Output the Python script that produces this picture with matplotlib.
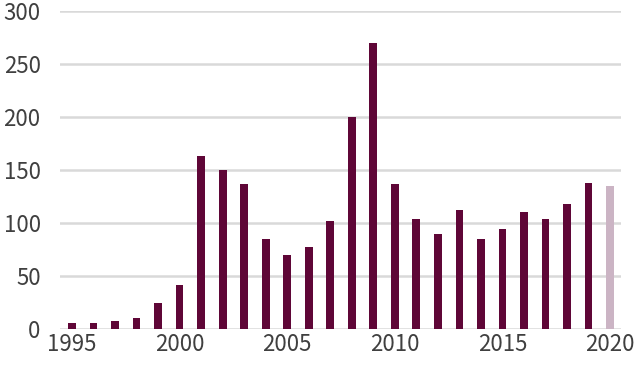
import matplotlib.pyplot as plt

years = list(range(1995, 2021))
counts = [5, 5, 7, 10, 24, 41, 163, 150, 137, 85, 70, 77, 102, 200, 270,
          137, 104, 89, 112, 85, 94, 110, 104, 118, 138, 135]
highlight_year = 2020

bar_colors = ['#cbb4c4' if y == highlight_year else '#5f0637' for y in years]

plt.rcParams['font.family'] = ['Noto Sans CJK KR', 'DejaVu Sans']

fig = plt.figure(figsize=(6.4, 3.66), dpi=100)
ax = fig.add_axes([0.094, 0.102, 0.876, 0.868])

ax.bar(years, counts, width=0.36, color=bar_colors, zorder=3)

ax.set_ylim(0, 300)
ax.set_xlim(1994.45, 2020.5)
ax.set_yticks(range(0, 301, 50))
ax.set_xticks(range(1995, 2021, 5))
ax.yaxis.grid(True, color='#d9d9d9', linewidth=1.8, zorder=0)
ax.set_axisbelow(True)

for s in ax.spines.values():
    s.set_visible(False)
ax.tick_params(axis='both', length=0, labelsize=16, colors='#404040')
ax.tick_params(axis='y', pad=14)
ax.tick_params(axis='x', pad=3)
for lbl in ax.get_xticklabels() + ax.get_yticklabels():
    lbl.set_fontweight('light')

fig.savefig('out.png', dpi=100)
